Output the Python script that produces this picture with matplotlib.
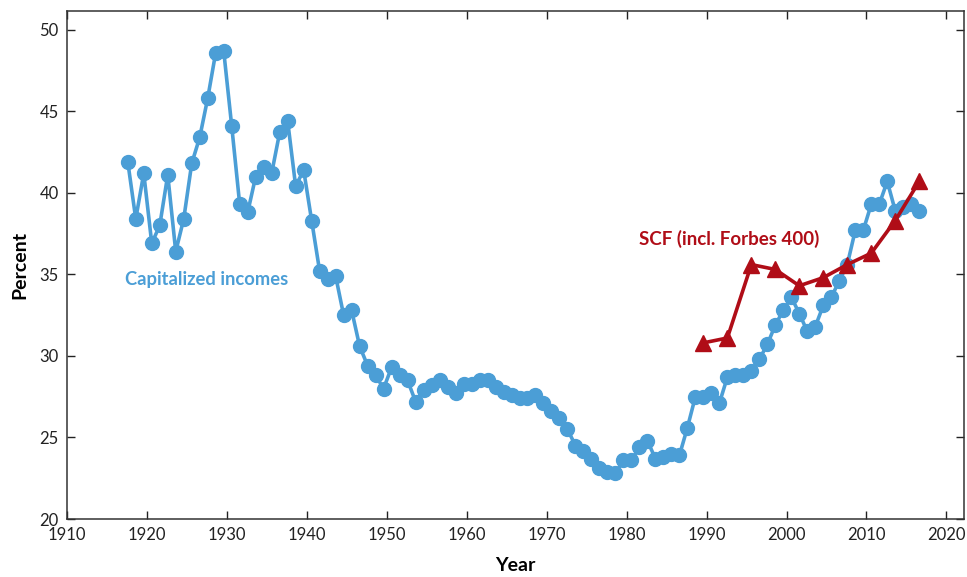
import numpy as np
import matplotlib
matplotlib.use("Agg")
import matplotlib.pyplot as plt

plt.rcParams['font.family'] = ['Lato', 'DejaVu Sans']

# capitalized incomes, annual 1917-2016
cap_years = list(range(1917, 2017))
cap_share = [41.9, 38.4, 41.2, 36.9, 38.0, 41.1, 36.4, 38.4, 41.8, 43.4,
             45.8, 48.6, 48.7, 44.1, 39.3, 38.8, 41.0, 41.6, 41.2, 43.7,
             44.4, 40.4, 41.4, 38.3, 35.2, 34.7, 34.9, 32.5, 32.8, 30.6,
             29.4, 28.8, 28.0, 29.3, 28.8, 28.5, 27.2, 27.9, 28.2, 28.5,
             28.1, 27.7, 28.3, 28.3, 28.5, 28.5, 28.1, 27.8, 27.6, 27.4,
             27.4, 27.6, 27.1, 26.6, 26.2, 25.5, 24.5, 24.2, 23.7, 23.1,
             22.9, 22.8, 23.6, 23.6, 24.4, 24.8, 23.7, 23.8, 24.0, 23.9,
             25.6, 27.5, 27.5, 27.7, 27.1, 28.7, 28.8, 28.8, 29.1, 29.8,
             30.7, 31.9, 32.8, 33.6, 32.6, 31.5, 31.8, 33.1, 33.6, 34.6,
             35.6, 37.7, 37.7, 39.3, 39.3, 40.7, 38.9, 39.1, 39.3, 38.9]

# SCF incl. Forbes 400
scf_years = [1989, 1992, 1995, 1998, 2001, 2004, 2007, 2010, 2013, 2016]
scf_share = [30.8, 31.1, 35.6, 35.3, 34.3, 34.8, 35.6, 36.3, 38.3, 40.7]

blue = '#4b9ed6'
red = '#b00d17'
shift = 0.6  # points sit a bit right of the year ticks in the original

fig = plt.figure(figsize=(9.67, 5.77), dpi=100)
ax = fig.add_axes([0.0693, 0.1005, 0.9276, 0.8805])

ax.plot(np.array(cap_years) + shift, cap_share, '-o', color=blue, lw=2.6,
        ms=10, mec=blue, zorder=3)
ax.plot(np.array(scf_years) + shift, scf_share, '-^', color=red, lw=2.6,
        ms=11, mec=red, zorder=4)

ax.text(1917.2, 34.7, 'Capitalized incomes', color=blue, fontsize=13.2,
        fontweight='bold', va='center', ha='left')
ax.text(1981.6, 37.2, 'SCF (incl. Forbes 400)', color=red, fontsize=13.5,
        fontweight='bold', va='center', ha='left')

ax.set_xlim(1910, 2022.2)
ax.set_ylim(20, 51.15)
ax.set_xticks(range(1910, 2021, 10))
ax.set_yticks(range(20, 51, 5))
ax.tick_params(direction='in', length=6, width=1, top=True, right=True,
               labelsize=12, colors='#222222', pad=6)
for s in ax.spines.values():
    s.set_linewidth(1.1)
    s.set_color('#333333')

ax.set_xlabel('Year', fontsize=14, fontweight='bold', labelpad=10)
ax.set_ylabel('Percent', fontsize=14, fontweight='bold', labelpad=8)

fig.savefig('out.png', dpi=100)
